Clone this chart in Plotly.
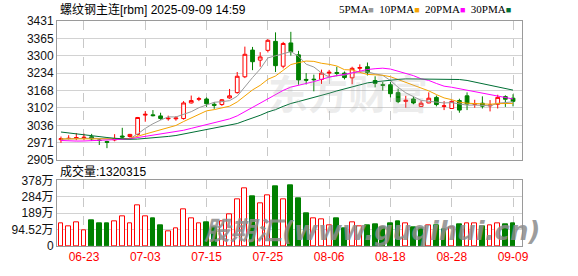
import plotly.graph_objects as go
import pandas as pd

# ---------------- data ----------------
dates = ["06-18", "06-19", "06-20", "06-23", "06-24", "06-25", "06-26", "06-27", "06-30", "07-01",
         "07-02", "07-03", "07-04", "07-07", "07-08", "07-09", "07-10", "07-11", "07-14", "07-15",
         "07-16", "07-17", "07-18", "07-21", "07-22", "07-23", "07-24", "07-25", "07-28", "07-29",
         "07-30", "07-31", "08-01", "08-04", "08-05", "08-06", "08-07", "08-08", "08-11", "08-12",
         "08-13", "08-14", "08-15", "08-18", "08-19", "08-20", "08-21", "08-22", "08-25", "08-26",
         "08-27", "08-28", "08-29", "09-01", "09-02", "09-03", "09-04", "09-05", "09-08", "09-09"]

opens = [2982, 2987, 2988, 2989, 2993, 2981, 2975, 2981, 2996, 2994,
         3002, 3075, 3076, 3072, 3061, 3061, 3062, 3121, 3135, 3136,
         3116, 3115, 3140, 3160, 3220, 3321, 3283, 3320, 3354, 3260,
         3348, 3303, 3210, 3211, 3210, 3234, 3236, 3234, 3216, 3252,
         3258, 3206, 3190, 3190, 3160, 3127, 3136, 3108, 3121, 3142,
         3108, 3100, 3130, 3148, 3116, 3120, 3110, 3116, 3145, 3139]
highs = [2994, 2999, 3007, 3005, 3004, 2984, 2978, 3003, 3027, 3004,
         3068, 3090, 3094, 3084, 3073, 3071, 3128, 3149, 3144, 3142,
         3124, 3136, 3174, 3238, 3334, 3333, 3313, 3362, 3388, 3352,
         3390, 3318, 3234, 3228, 3247, 3246, 3258, 3240, 3258, 3267,
         3274, 3222, 3200, 3200, 3175, 3148, 3145, 3130, 3161, 3149,
         3128, 3130, 3137, 3161, 3133, 3146, 3132, 3152, 3150, 3154]
lows = [2970, 2983, 2980, 2980, 2978, 2962, 2950, 2976, 2988, 2990,
        2998, 3050, 3070, 3057, 3054, 3054, 3058, 3119, 3128, 3106,
        3099, 3110, 3137, 3156, 3215, 3245, 3258, 3312, 3238, 3252,
        3300, 3190, 3191, 3165, 3193, 3217, 3222, 3210, 3192, 3240,
        3225, 3180, 3168, 3142, 3120, 3103, 3116, 3106, 3120, 3108,
        3094, 3098, 3084, 3094, 3103, 3100, 3089, 3100, 3106, 3108]
closes = [2986, 2987, 2990, 2991, 2985, 2979, 2972, 2986, 2992, 3002,
          3066, 3078, 3073, 3062, 3063, 3064, 3121, 3130, 3137, 3118,
          3112, 3133, 3148, 3222, 3305, 3277, 3295, 3358, 3262, 3346,
          3315, 3208, 3207, 3209, 3234, 3237, 3233, 3217, 3252, 3255,
          3236, 3195, 3188, 3156, 3126, 3131, 3121, 3120, 3139, 3115,
          3110, 3127, 3094, 3117, 3118, 3109, 3113, 3142, 3135, 3127]
volumes = [1280000, 1110000, 1370000, 930000, 1480000, 1330000, 1330000, 1430000, 1700000, 1330000,
           2320000, 1700000, 1610000, 1180000, 870000, 1000000, 2110000, 1610000, 1300000, 1390000,
           1100000, 1430000, 1830000, 2670000, 3300000, 2840000, 2480000, 2890000, 3450000, 2710000,
           3500000, 2720000, 1890000, 1590000, 1560000, 1180000, 1610000, 1000000, 1390000, 1110000,
           1180000, 1240000, 1060000, 1300000, 1400000, 1280000, 1060000, 1000000, 1180000, 1200000,
           950000, 1050000, 1250000, 1280000, 1300000, 1110000, 1200000, 1330000, 1240000, 1320315]
# closes of the sessions before the window (needed for the moving averages)
pre_closes = [3100, 3095, 3090, 3085, 3080, 3075, 3070, 3065, 3050, 3040,
              3020, 3000, 2985, 2970, 2960, 2955, 2950, 2955, 2960, 2975,
              2980, 2990, 2995, 2985, 2980, 2978, 2985, 2990, 2981]

ma_periods = [5, 10, 20, 30]
ma_names = ["5PMA", "10PMA", "20PMA", "30PMA"]
price_ticks = [2905, 2971, 3036, 3102, 3168, 3234, 3300, 3365, 3431]
vol_ticks = [0, 945200, 1890400, 2835600, 3780800]
vol_tick_labels = ["0", "94.52万", "189万", "284万", "378万"]
date_ticks = ["06-23", "07-03", "07-15", "07-25", "08-06", "08-18", "08-28", "09-09"]
title_text = "螺纹钢主连[rbm] 2025-09-09 14:59"
vol_title = "成交量:" + str(volumes[-1])

# ---------------- styles ----------------
RED = "#ff0000"
GREEN = "#008000"
ma_colors = ["#9a9a9a", "#f5a300", "#ff00ff", "#006f35"]
GRID = "#d2d2d2"
FRAME = "#9a9a9a"
FONT = "Liberation Sans, Noto Sans CJK SC, sans-serif"

x = list(range(len(dates)))
all_closes = pd.Series(pre_closes + closes, dtype=float)
mas = [all_closes.rolling(n).mean().iloc[len(pre_closes):].tolist() for n in ma_periods]

prev_close = [pre_closes[-1]] + closes[:-1]
vol_up = [c >= p for c, p in zip(closes, prev_close)]
vol_fill = ["#ffffff" if u else GREEN for u in vol_up]
vol_line = [RED if u else GREEN for u in vol_up]

tick_idx = [dates.index(d) for d in date_ticks]

fig = go.Figure()

fig.add_trace(go.Bar(
    x=x, y=volumes, xaxis="x", yaxis="y", width=0.62,
    marker=dict(color=vol_fill, line=dict(color=vol_line, width=1)),
    showlegend=False, hoverinfo="skip"))

fig.add_trace(go.Candlestick(
    x=x, open=opens, high=highs, low=lows, close=closes,
    xaxis="x2", yaxis="y2", whiskerwidth=0,
    increasing=dict(line=dict(color=RED, width=1), fillcolor="#ffffff"),
    decreasing=dict(line=dict(color=GREEN, width=1), fillcolor=GREEN),
    showlegend=False, hoverinfo="skip"))

for name, vals, col in zip(ma_names, mas, ma_colors):
    fig.add_trace(go.Scatter(
        x=x, y=vals, xaxis="x2", yaxis="y2", mode="lines", name=name,
        line=dict(color=col, width=1), showlegend=False, hoverinfo="skip"))

W, H = 578, 276
L, R, T, B = 56, 56, 21, 22
plot_h = H - T - B
vol_top_px, price_bot_px = 186, 165
vol_dom = [0, (H - B - vol_top_px) / plot_h]
price_dom = [(H - B - price_bot_px) / plot_h, 1]
xr = [-0.52, len(dates) - 1 + 1.17]

common_x = dict(range=xr, tickvals=tick_idx, ticktext=date_ticks,
                showgrid=True, gridcolor="#c8c8c8", griddash="dash", gridwidth=1,
                showline=True, linecolor=FRAME, linewidth=1, mirror=True,
                zeroline=False, ticks="", fixedrange=True,
                rangeslider=dict(visible=False))

fig.update_layout(
    width=W, height=H, autosize=False,
    margin=dict(l=L, r=R, t=T, b=B, pad=0),
    paper_bgcolor="#ffffff", plot_bgcolor="#ffffff",
    font=dict(family=FONT, size=12, color="#111111"),
    bargap=0,
    xaxis=dict(domain=[0, 1], anchor="y",
               tickfont=dict(color=RED, size=12, family=FONT), **common_x),
    xaxis2=dict(domain=[0, 1], anchor="y2", matches="x", showticklabels=False, **common_x),
    yaxis=dict(domain=vol_dom, range=[vol_ticks[0], vol_ticks[-1]], tickvals=vol_ticks,
               ticktext=vol_tick_labels, showgrid=True, gridcolor=GRID,
               showline=True, linecolor=FRAME, mirror=True, zeroline=False, ticks="",
               tickfont=dict(size=12, color="#111111")),
    yaxis2=dict(domain=price_dom, range=[price_ticks[0], price_ticks[-1]], tickvals=price_ticks,
                ticktext=[str(v) for v in price_ticks], showgrid=True, gridcolor=GRID,
                showline=True, linecolor=FRAME, mirror=True, zeroline=False, ticks="",
                tickfont=dict(size=12, color="#111111")),
)


def px_x(p):
    return (p - L) / (W - L - R)


def px_y(p):
    return (H - B - p) / plot_h


legend_html = "  ".join(
    f"{n}<span style='color:{c};font-size:9px'>■</span>" for n, c in zip(ma_names, ma_colors))

annotations = [
    dict(text=title_text, x=px_x(57), y=px_y(9), xanchor="left", yanchor="middle",
         font=dict(size=12, color="#000000", family=FONT)),
    dict(text=legend_html, x=px_x(513), y=px_y(9), xanchor="right", yanchor="middle",
         font=dict(size=11, color="#000000", family="Liberation Serif, serif")),
    dict(text=vol_title, x=px_x(57), y=px_y(177), xanchor="left", yanchor="middle",
         font=dict(size=12, color="#000000", family=FONT)),
    dict(text="东方财富", x=px_x(348), y=px_y(95), xanchor="center", yanchor="middle",
         font=dict(size=40, color="rgba(170,170,170,0.22)", family="Noto Sans CJK SC", weight="bold")),
    dict(text="股期汇(www.guqihui.cn)", x=px_x(372), y=px_y(238), xanchor="center", yanchor="middle",
         font=dict(size=26, color="rgba(140,140,140,0.85)", family="DejaVu Sans, Noto Sans CJK SC",
                   weight="bold", style="italic")),
]
for a in annotations:
    a.update(xref="paper", yref="paper", showarrow=False)
fig.update_layout(annotations=annotations)

fig.write_html("out.html")
